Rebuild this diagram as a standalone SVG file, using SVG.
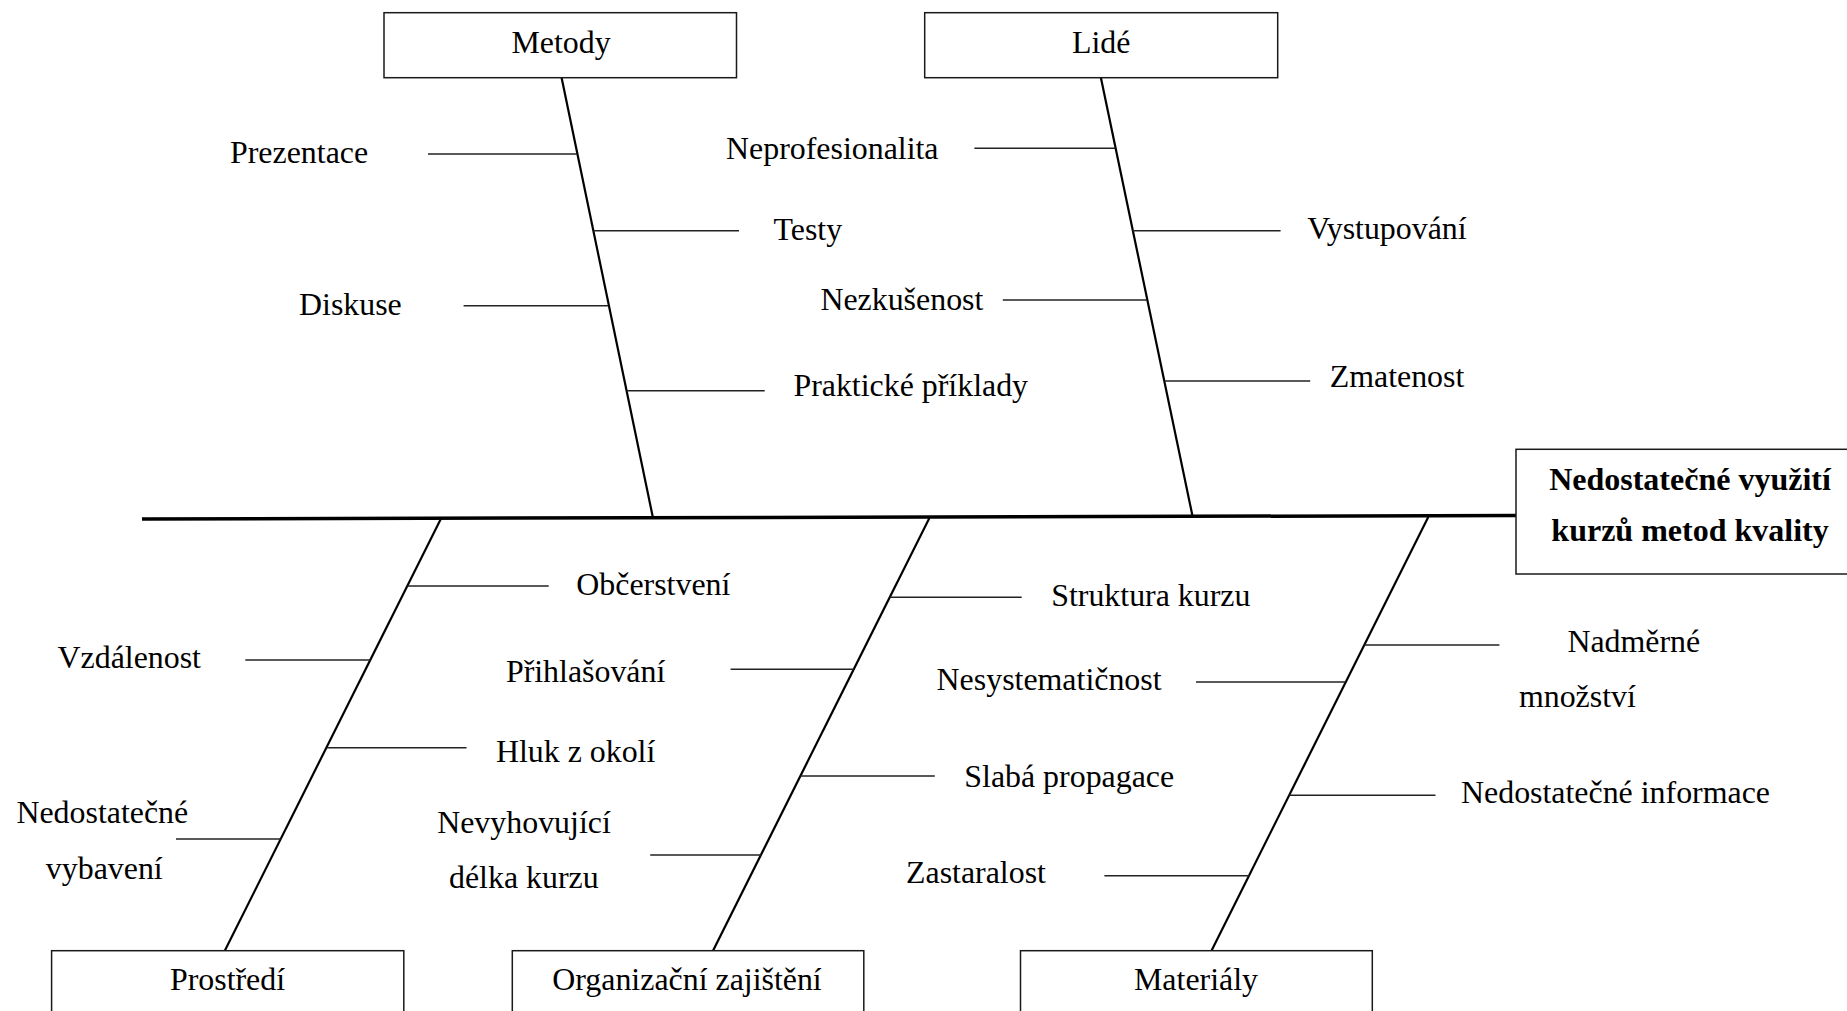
<svg xmlns="http://www.w3.org/2000/svg" width="1847" height="1011" viewBox="0 0 1847 1011">
  <style>
    .box { fill: #ffffff; stroke: #1a1a1a; stroke-width: 1.5; }
    .lbl { font-family: "Liberation Serif", "Times New Roman", serif; font-size: 31.9px; fill: #000000; }
    .mid { text-anchor: middle; }
    .head { font-family: "Liberation Serif", "Times New Roman", serif; font-size: 32px; font-weight: bold; fill: #000000; text-anchor: middle; }
    .spine { stroke: #000000; stroke-width: 3.5; fill: none; }
    .bone { stroke: #000000; stroke-width: 2.2; fill: none; }
    .rib { stroke: #222222; stroke-width: 1.5; fill: none; }
  </style>

  <!-- skeleton: spine, category bones and cause ribs -->
  <g id="connectors">
    <line class="spine" x1="142" y1="519" x2="1516" y2="515.5"/>

    <!-- Metody -->
    <line class="bone" x1="561.6" y1="77.7" x2="653" y2="518"/>
    <line class="rib" x1="428" y1="154" x2="577.5" y2="154"/>
    <line class="rib" x1="593.5" y1="230.7" x2="739" y2="230.7"/>
    <line class="rib" x1="463.6" y1="305.7" x2="608.5" y2="305.7"/>
    <line class="rib" x1="626.5" y1="390.7" x2="764.7" y2="390.7"/>

    <!-- Lidé -->
    <line class="bone" x1="1100.9" y1="77.7" x2="1192.5" y2="516"/>
    <line class="rib" x1="974.4" y1="148.3" x2="1115.2" y2="148.3"/>
    <line class="rib" x1="1132.4" y1="230.7" x2="1280.6" y2="230.7"/>
    <line class="rib" x1="1002.8" y1="300" x2="1147" y2="300"/>
    <line class="rib" x1="1164.3" y1="381" x2="1310.2" y2="381"/>

    <!-- Prostředí -->
    <line class="bone" x1="441.3" y1="518" x2="224.8" y2="950.7"/>
    <line class="rib" x1="407.3" y1="586" x2="548.7" y2="586"/>
    <line class="rib" x1="245.3" y1="660" x2="370.3" y2="660"/>
    <line class="rib" x1="326.5" y1="747.7" x2="466.5" y2="747.7"/>
    <line class="rib" x1="176" y1="839" x2="280.8" y2="839"/>

    <!-- Organizační zajištění -->
    <line class="bone" x1="929.4" y1="518" x2="713" y2="950.7"/>
    <line class="rib" x1="889.7" y1="597.3" x2="1021.7" y2="597.3"/>
    <line class="rib" x1="730.6" y1="669.3" x2="853.8" y2="669.3"/>
    <line class="rib" x1="800.4" y1="776" x2="934.8" y2="776"/>
    <line class="rib" x1="650.2" y1="855" x2="760.9" y2="855"/>

    <!-- Materiály -->
    <line class="bone" x1="1428.4" y1="516.7" x2="1211.5" y2="950.7"/>
    <line class="rib" x1="1364.2" y1="645" x2="1499.4" y2="645"/>
    <line class="rib" x1="1196" y1="682" x2="1345.7" y2="682"/>
    <line class="rib" x1="1289.2" y1="795.3" x2="1435.5" y2="795.3"/>
    <line class="rib" x1="1104.4" y1="875.7" x2="1249.2" y2="875.7"/>
  </g>

  <!-- effect -->
  <g id="effect">
    <rect class="box" x="1516" y="449.3" width="336" height="124.7"/>
    <text class="head" x="1690" y="490">Nedostatečné využití</text>
    <text class="head" x="1690" y="541">kurzů metod kvality</text>
  </g>

  <!-- category boxes -->
  <g id="metody">
    <rect class="box" x="384" y="12.7" width="352.5" height="65"/>
    <text class="lbl mid" x="561" y="53.3">Metody</text>
  </g>
  <g id="lide">
    <rect class="box" x="924.7" y="12.7" width="353" height="65"/>
    <text class="lbl mid" x="1101.2" y="52.7">Lidé</text>
  </g>
  <g id="prostredi">
    <rect class="box" x="51.6" y="950.7" width="352.2" height="66"/>
    <text class="lbl mid" x="227.5" y="990">Prostředí</text>
  </g>
  <g id="organizacni-zajisteni">
    <rect class="box" x="512.3" y="950.7" width="351.5" height="66"/>
    <text class="lbl mid" x="687" y="990">Organizační zajištění</text>
  </g>
  <g id="materialy">
    <rect class="box" x="1020.5" y="950.7" width="351.8" height="66"/>
    <text class="lbl mid" x="1196" y="990">Materiály</text>
  </g>

  <!-- causes: Metody -->
  <g id="prezentace"><text class="lbl" x="230" y="163">Prezentace</text></g>
  <g id="testy"><text class="lbl" x="773.5" y="240">Testy</text></g>
  <g id="diskuse"><text class="lbl" x="299" y="315">Diskuse</text></g>
  <g id="prakticke-priklady"><text class="lbl" x="793.4" y="396">Praktické příklady</text></g>

  <!-- causes: Lidé -->
  <g id="neprofesionalita"><text class="lbl" x="726" y="159">Neprofesionalita</text></g>
  <g id="vystupovani"><text class="lbl" x="1307.2" y="239.3">Vystupování</text></g>
  <g id="nezkusenost"><text class="lbl" x="820.4" y="310">Nezkušenost</text></g>
  <g id="zmatenost"><text class="lbl" x="1329.7" y="387.3">Zmatenost</text></g>

  <!-- causes: Prostředí -->
  <g id="obcerstveni"><text class="lbl" x="576.3" y="595">Občerstvení</text></g>
  <g id="vzdalenost"><text class="lbl" x="57.5" y="668.3">Vzdálenost</text></g>
  <g id="hluk"><text class="lbl" x="495.9" y="761.7">Hluk z okolí</text></g>
  <g id="vybaveni">
    <text class="lbl" x="16.4" y="823.3">Nedostatečné</text>
    <text class="lbl" x="45.8" y="879">vybavení</text>
  </g>

  <!-- causes: Organizační zajištění -->
  <g id="struktura"><text class="lbl" x="1051.2" y="606">Struktura kurzu</text></g>
  <g id="prihlasovani"><text class="lbl" x="505.9" y="681.7">Přihlašování</text></g>
  <g id="propagace"><text class="lbl" x="964.3" y="786.7">Slabá propagace</text></g>
  <g id="delka">
    <text class="lbl" x="437.2" y="833.3">Nevyhovující</text>
    <text class="lbl" x="449" y="888.3">délka kurzu</text>
  </g>

  <!-- causes: Materiály -->
  <g id="mnozstvi">
    <text class="lbl" x="1567.4" y="651.7">Nadměrné</text>
    <text class="lbl" x="1518.9" y="706.7">množství</text>
  </g>
  <g id="nesystematicnost"><text class="lbl" x="936.6" y="690">Nesystematičnost</text></g>
  <g id="informace"><text class="lbl" x="1461" y="802.7">Nedostatečné informace</text></g>
  <g id="zastaralost"><text class="lbl" x="906" y="883.3">Zastaralost</text></g>
</svg>
